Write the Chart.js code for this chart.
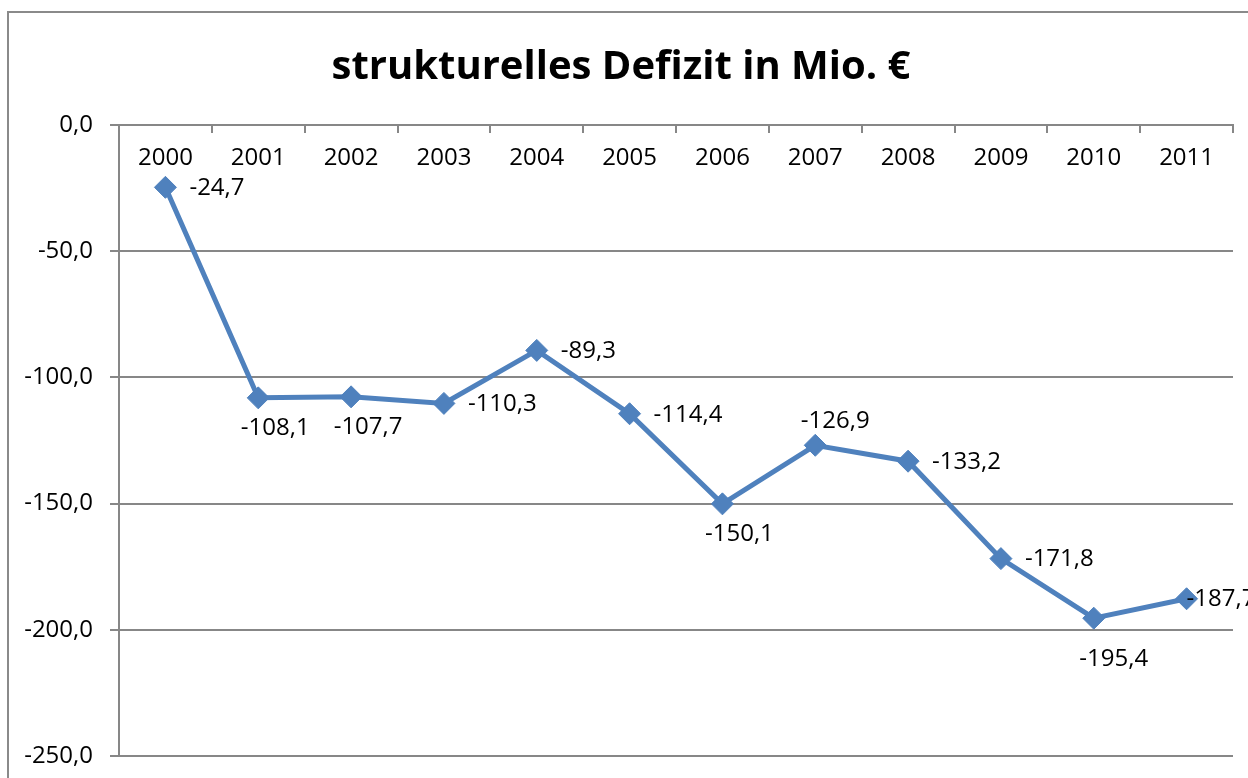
<!DOCTYPE html>
<html>
<head>
<meta charset="utf-8">
<script src="https://cdn.jsdelivr.net/npm/chart.js@4"></script>
<style>
  html, body { margin: 0; padding: 0; background: #fff; overflow: hidden; }
  #frame { position: absolute; left: 7px; top: 11px; border: 2px solid #8a8a8a; width: 1251px; height: 800px; }
  canvas { display: block; }
</style>
</head>
<body>
<div id="frame"><canvas id="defizitChart" width="1251" height="800"></canvas></div>
<script>
  // ────────── Data ──────────
  const years = ['2000', '2001', '2002', '2003', '2004', '2005', '2006', '2007', '2008', '2009', '2010', '2011'];
  const defizit = [-24.7, -108.1, -107.7, -110.3, -89.3, -114.4, -150.1, -126.9, -133.2, -171.8, -195.4, -187.7];
  const yTicks = [0, -50, -100, -150, -200, -250];
  const labelPos = ['right', 'below', 'below', 'right', 'right', 'right', 'below', 'above', 'right', 'right', 'belowFar', 'edge'];

  const grey = '#878787';
  const blue = '#4f81bd';
  const fmt = v => Number(v).toFixed(1).replace('.', ',');

  Chart.defaults.font.family = '"Open Sans", sans-serif';
  Chart.defaults.color = '#000';

  // ────────── Data labels like Excel ──────────
  const pointLabels = {
    id: 'pointLabels',
    afterDatasetsDraw(chart) {
      const {ctx} = chart;
      const meta = chart.getDatasetMeta(0);
      ctx.save();
      ctx.font = '24px "Open Sans", sans-serif';
      ctx.fillStyle = '#000';
      ctx.textBaseline = 'middle';
      meta.data.forEach((pt, i) => {
        let x = pt.x, y = pt.y;
        const pos = labelPos[i];
        if (pos === 'right') { ctx.textAlign = 'left'; x += 24; y += 1; }
        else if (pos === 'below') { ctx.textAlign = 'center'; x += 17; y += 30; }
        else if (pos === 'belowFar') { ctx.textAlign = 'center'; x += 20; y += 41; }
        else if (pos === 'above') { ctx.textAlign = 'center'; x += 20; y -= 24; }
        else { ctx.textAlign = 'left'; x += 0; }
        ctx.fillText(fmt(defizit[i]), x, y);
      });
      ctx.restore();
    }
  };

  const ctx = document.getElementById('defizitChart').getContext('2d');
  const chart = new Chart(ctx, {
    type: 'line',
    data: {
      labels: years,
      datasets: [{
        data: defizit,
        borderColor: blue,
        backgroundColor: blue,
        borderWidth: 5,
        tension: 0,
        pointStyle: 'rectRot',
        pointRadius: 11,
        pointHoverRadius: 11,
        pointBorderWidth: 1,
        pointBorderColor: blue,
        pointBackgroundColor: blue,
        clip: false
      }]
    },
    options: {
      responsive: false,
      animation: false,
      events: [],
      layout: { padding: { left: 0, right: 27, top: 0, bottom: 57 } },
      plugins: {
        legend: { display: false },
        tooltip: { enabled: false },
        title: {
          display: true,
          text: 'strukturelles Defizit in Mio. €',
          color: '#000',
          font: { size: 40, weight: 'bold', lineHeight: 1.2 },
          padding: { top: 31, bottom: 7 }
        }
      },
      scales: {
        x: {
          position: 'top',
          offset: true,
          grid: {
            offset: true,
            drawOnChartArea: false,
            tickLength: -8,
            color: grey,
            lineWidth: 2
          },
          border: { display: true, color: grey, width: 2 },
          ticks: {
            mirror: true,
            padding: 19,
            maxRotation: 0,
            autoSkip: false,
            font: { size: 24 }
          },
          afterFit(scale) { scale.height = 112 - 86; }
        },
        y: {
          min: Math.min(...yTicks),
          max: Math.max(...yTicks),
          ticks: {
            stepSize: yTicks[0] - yTicks[1],
            padding: 17,
            font: { size: 24 },
            callback: v => fmt(v)
          },
          grid: { color: grey, lineWidth: 2, tickLength: 9 },
          border: { display: true, color: grey, width: 2 },
          afterFit(scale) { scale.width = 110; }
        }
      }
    },
    plugins: [pointLabels]
  });
</script>
</body>
</html>
